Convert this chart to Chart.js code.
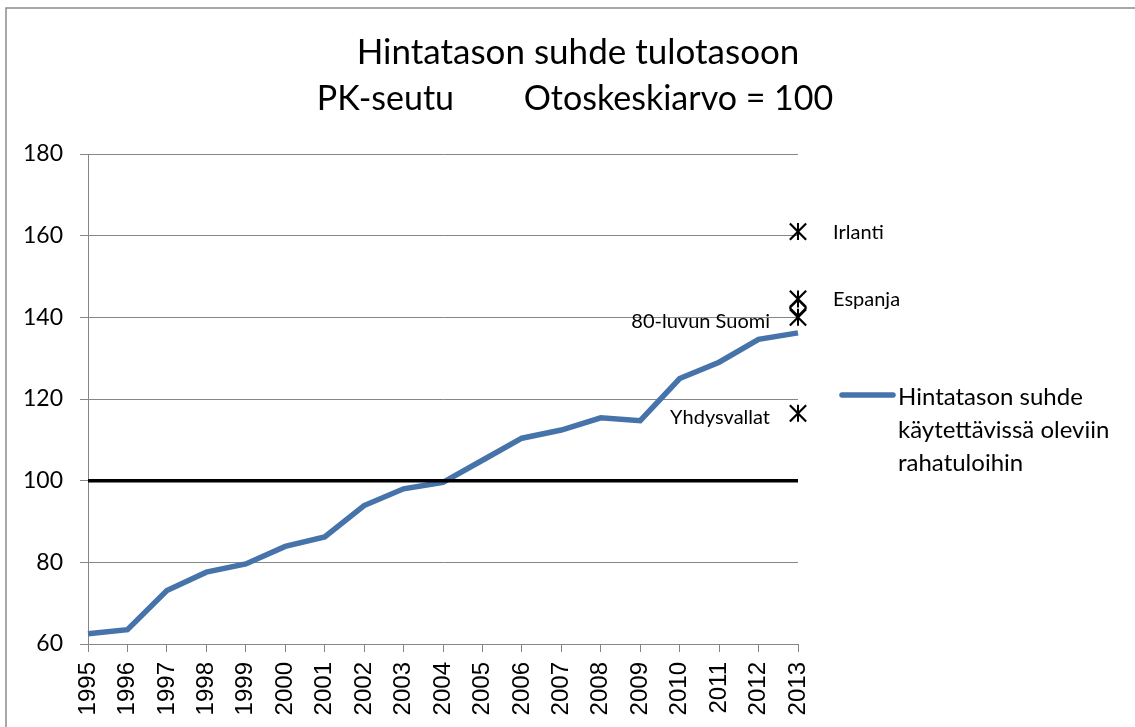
<!DOCTYPE html>
<html>
<head>
<meta charset="utf-8">
<title>Hintatason suhde tulotasoon</title>
<script src="https://cdn.jsdelivr.net/npm/chart.js@4"></script>
<style>
  html, body { margin: 0; padding: 0; background: #fff; }
  canvas { display: block; }
</style>
</head>
<body>
<canvas id="priceChart" width="1135" height="727"></canvas>
<script>
// Data
const years = ['1995', '1996', '1997', '1998', '1999', '2000', '2001', '2002', '2003', '2004',
               '2005', '2006', '2007', '2008', '2009', '2010', '2011', '2012', '2013'];
const priceToIncome = [62.5, 63.5, 73.1, 77.6, 79.6, 83.9, 86.2, 93.9, 98.0, 99.6,
                       105.0, 110.4, 112.4, 115.4, 114.7, 125.0, 129.0, 134.6, 136.2];
const referenceLevel = 100;
const comparisonLabels = ['Irlanti', 'Espanja', '80-luvun Suomi', 'Yhdysvallat'];
const comparisonValues = [161, 144.5, 140, 116.5];
const diamondValue = 142.3;
const yTicks = { min: 60, max: 180, step: 20 };

const titleLines = ['Hintatason suhde tulotasoon', 'PK-seutu        Otoskeskiarvo = 100'];
const legendLines = ['Hintatason suhde', 'käytettävissä oleviin', 'rahatuloihin'];

const blue = '#4673aa';
const lastYear = years[years.length - 1];
const comparisonPoints = comparisonValues.map(v => ({ x: lastYear, y: v }));

// Extra text: title, legend, labels beside the markers, outer frame
const decorations = {
    id: 'decorations',
    afterDraw(chart) {
        const ctx = chart.ctx;
        ctx.save();

        ctx.strokeStyle = '#8c8c8c';
        ctx.lineWidth = 1.5;
        ctx.strokeRect(6, 8, 1300, 900);

        ctx.fillStyle = '#000';
        ctx.textAlign = 'center';
        ctx.textBaseline = 'alphabetic';
        ctx.font = '35px Lato';
        ctx.fillText(titleLines[0], 578, 64);
        ctx.font = '34px Lato';
        ctx.fillText(titleLines[1], 575, 110);

        // legend
        ctx.strokeStyle = blue;
        ctx.lineWidth = 5.5;
        ctx.lineCap = 'round';
        ctx.beginPath();
        ctx.moveTo(842, 395);
        ctx.lineTo(893, 395);
        ctx.stroke();
        ctx.font = '24px Lato';
        ctx.textAlign = 'left';
        ctx.textBaseline = 'middle';
        legendLines.forEach((line, i) => ctx.fillText(line, 898, 397 + i * 33));

        // marker labels
        const meta = chart.getDatasetMeta(2);
        ctx.font = '20px Lato';
        meta.data.forEach((pt, i) => {
            const name = comparisonLabels[i];
            if (i < 2) {
                ctx.textAlign = 'left';
                ctx.fillText(name, pt.x + 35, pt.y + 1);
            } else {
                ctx.textAlign = 'right';
                ctx.fillText(name, pt.x - 28, pt.y + 4);
            }
        });
        ctx.restore();
    }
};

new Chart(document.getElementById('priceChart').getContext('2d'), {
    type: 'line',
    data: {
        labels: years,
        datasets: [{
            label: 'Hintatason suhde käytettävissä oleviin rahatuloihin',
            data: priceToIncome,
            borderColor: blue,
            borderWidth: 5.5,
            pointRadius: 0,
            tension: 0,
            order: 3
        }, {
            label: 'Otoskeskiarvo',
            data: [{ x: years[0], y: referenceLevel }, { x: lastYear, y: referenceLevel }],
            borderColor: '#000',
            borderWidth: 3.5,
            pointRadius: 0,
            order: 1
        }, {
            label: 'Vertailumaat',
            data: comparisonPoints,
            showLine: false,
            pointStyle: 'crossRot',
            pointRadius: 11.5,
            pointBorderColor: '#000',
            pointBorderWidth: 2.2,
            order: 0
        }, {
            label: 'Vertailumaat pysty',
            data: comparisonPoints,
            showLine: false,
            pointStyle: 'line',
            pointRotation: 90,
            pointRadius: 8.5,
            pointBorderColor: '#000',
            pointBorderWidth: 2,
            order: 0
        }, {
            label: 'Vinoneliö',
            data: [{ x: lastYear, y: diamondValue }],
            showLine: false,
            pointStyle: 'rectRot',
            pointRadius: 8,
            pointBackgroundColor: 'rgba(0,0,0,0)',
            pointBorderColor: '#000',
            pointBorderWidth: 1.8,
            order: 0
        }]
    },
    options: {
        responsive: false,
        animation: false,
        layout: { padding: { top: 154, right: 337, bottom: 0, left: 0 } },
        plugins: {
            legend: { display: false },
            title: { display: false },
            tooltip: { enabled: false }
        },
        scales: {
            x: {
                type: 'category',
                offset: false,
                afterFit: s => { s.height = 83; },
                grid: { drawOnChartArea: false, drawTicks: true, tickLength: 8, color: '#868686' },
                border: { color: '#868686', width: 1 },
                ticks: {
                    autoSkip: false,
                    minRotation: 90,
                    maxRotation: 90,
                    padding: 10,
                    color: '#000',
                    font: { family: 'Liberation Sans', size: 24 }
                }
            },
            y: {
                min: yTicks.min,
                max: yTicks.max,
                afterFit: s => { s.width = 88; },
                grid: { color: '#868686', lineWidth: 1, tickLength: 8 },
                border: { color: '#868686', width: 1 },
                ticks: {
                    stepSize: yTicks.step,
                    padding: 17,
                    color: '#000',
                    font: { family: 'Lato', size: 23 }
                }
            }
        }
    },
    plugins: [decorations]
});
</script>
</body>
</html>
